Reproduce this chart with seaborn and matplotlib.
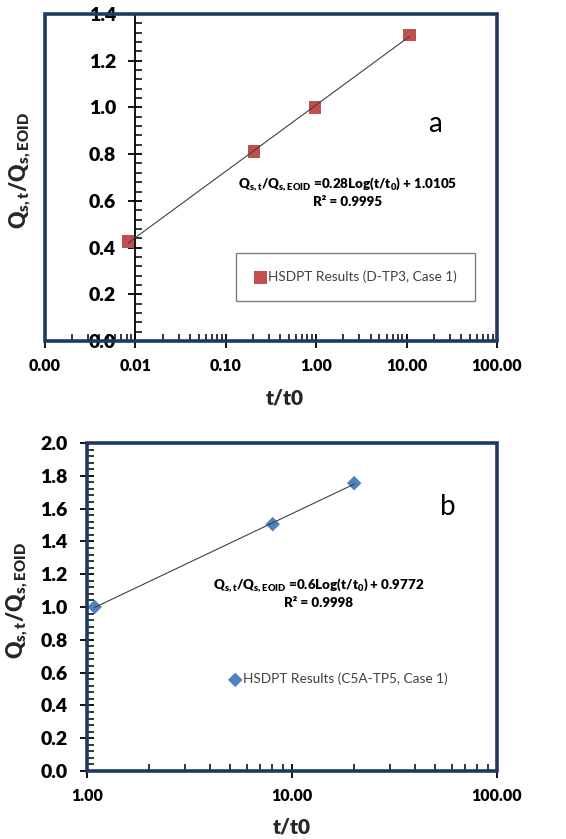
import numpy as np
import pandas as pd
import matplotlib
matplotlib.use("Agg")
import matplotlib.pyplot as plt
import seaborn as sns
from matplotlib.patches import Rectangle
from matplotlib.ticker import LogLocator, MultipleLocator, NullFormatter, FormatStrFormatter

# ---------------- data ----------------
a_t = [0.0083, 0.205, 0.97, 10.7]
a_q = [0.425, 0.81, 1.0, 1.31]
a_label = "HSDPT Results (D-TP3, Case 1)"
a_eq = "Q$_{s,t}$/Q$_{s,EOID}$ =0.28Log(t/t$_0$) + 1.0105"
a_r2 = "R² = 0.9995"
a_xticks = [0.001, 0.01, 0.1, 1, 10, 100]
a_xticklabels = ["0.00", "0.01", "0.10", "1.00", "10.00", "100.00"]
a_yticks = [0.0, 0.2, 0.4, 0.6, 0.8, 1.0, 1.2, 1.4]

b_t = [1.09, 8.05, 20.1]
b_q = [1.0, 1.505, 1.755]
b_label = "HSDPT Results (C5A-TP5, Case 1)"
b_eq = "Q$_{s,t}$/Q$_{s,EOID}$ =0.6Log(t/t$_0$) + 0.9772"
b_r2 = "R² = 0.9998"
b_xticks = [1, 10, 100]
b_xticklabels = ["1.00", "10.00", "100.00"]
b_yticks = [0.0, 0.2, 0.4, 0.6, 0.8, 1.0, 1.2, 1.4, 1.6, 1.8, 2.0]

ylab = "Q$_{s,t}$/Q$_{s,EOID}$"
xlab = "t/t0"

# ---------------- style ----------------
sns.set_theme(style="white")
plt.rcParams["font.family"] = ["Lato", "DejaVu Sans"]
plt.rcParams["mathtext.default"] = "regular"

NAVY = "#1F3A60"
RED = "#C0504D"
BLUE = "#4F81BD"
HEAVY = "heavy"

fig = plt.figure(figsize=(5.66, 8.39), dpi=100)
W, H = 566, 839


def px_axes(l, t, r, b):
    return fig.add_axes([l / W, 1 - b / H, (r - l) / W, (b - t) / H])


def style_ticks(ax):
    ax.tick_params(axis="both", which="both", bottom=True, left=True,
                   top=False, right=False)
    ax.tick_params(axis="both", which="major", direction="inout", length=10,
                   width=1.3, color="black", labelcolor="black")
    ax.tick_params(axis="both", which="minor", direction="in", length=5,
                   width=1.1, color="black")
    ax.tick_params(axis="x", which="major", labelsize=11.5, pad=7)
    ax.tick_params(axis="y", which="major", labelsize=14, pad=9)
    for lab in ax.get_xticklabels() + ax.get_yticklabels():
        lab.set_fontweight(HEAVY)


def frame(ax):
    for s in ax.spines.values():
        s.set_visible(False)
    ax.add_patch(Rectangle((0, 0), 1, 1, transform=ax.transAxes, fill=False,
                           edgecolor=NAVY, lw=2.6, clip_on=False, zorder=5))


def labels(ax, xl_x, xl_y, yl_x, yl_y):
    ax.set_xlabel(xlab, fontsize=15, fontweight=HEAVY)
    ax.xaxis.label.set_va("center")
    ax.xaxis.set_label_coords(xl_x, xl_y)
    ax.set_ylabel(ylab, fontsize=15.5, fontweight=HEAVY)
    ax.yaxis.label.set_va("center")
    ax.yaxis.set_label_coords(yl_x, yl_y)


# ---------------- panel a ----------------
ax1 = px_axes(45, 14, 497, 341)
dfa = pd.DataFrame({"t": a_t, "q": a_q})
sns.scatterplot(data=dfa, x="t", y="q", marker="s", s=85, color=RED,
                edgecolor="none", label=a_label, ax=ax1, zorder=3)
ka = np.polyfit(np.log10(a_t), a_q, 1)
xa = np.logspace(np.log10(min(a_t)), np.log10(max(a_t)), 50)
ax1.plot(xa, np.polyval(ka, np.log10(xa)), color="#404040", lw=0.8, zorder=4)
ax1.set_xscale("log")
ax1.set_xlim(0.001, 100)
ax1.set_ylim(0, 1.4)
frame(ax1)
ax1.spines["left"].set_visible(True)
ax1.spines["left"].set_position(("data", 0.01))
ax1.spines["left"].set_color("black")
ax1.spines["left"].set_linewidth(1.3)
ax1.spines["bottom"].set_visible(True)
ax1.spines["bottom"].set_color("black")
ax1.spines["bottom"].set_linewidth(1.3)
ax1.set_xticks(a_xticks, labels=a_xticklabels)
ax1.xaxis.set_minor_locator(LogLocator(base=10, subs=np.arange(2, 10)))
ax1.xaxis.set_minor_formatter(NullFormatter())
ax1.set_yticks(a_yticks)
ax1.yaxis.set_major_formatter(FormatStrFormatter("%.1f"))
ax1.yaxis.set_minor_locator(MultipleLocator(0.04))
style_ticks(ax1)
labels(ax1, 0.53, -0.175, -0.055, 0.52)
ax1.text(0.863, 0.665, "a", transform=ax1.transAxes, fontsize=20,
         ha="center", va="center", color="black")
ax1.text(0.67, 0.483, a_eq, transform=ax1.transAxes, fontsize=9.6,
         fontweight=HEAVY, ha="center", va="center", color="black")
ax1.text(0.67, 0.425, a_r2, transform=ax1.transAxes, fontsize=9.6,
         fontweight=HEAVY, ha="center", va="center", color="black")
leg1 = ax1.legend(loc="center", bbox_to_anchor=(0.687, 0.197), frameon=True,
                  fancybox=False, framealpha=1, edgecolor="#808080",
                  fontsize=9.8, borderpad=1.3, handletextpad=0.05,
                  handlelength=1.0, labelcolor="#404040")
leg1.get_frame().set_linewidth(1.0)

# ---------------- panel b ----------------
ax2 = px_axes(87, 443, 497, 771)
dfb = pd.DataFrame({"t": b_t, "q": b_q})
sns.scatterplot(data=dfb, x="t", y="q", marker="D", s=55, color=BLUE,
                edgecolor="none", label=b_label, ax=ax2, zorder=3)
kb = np.polyfit(np.log10(b_t), b_q, 1)
xb = np.logspace(np.log10(min(b_t)), np.log10(max(b_t)), 50)
ax2.plot(xb, np.polyval(kb, np.log10(xb)), color="#404040", lw=0.8, zorder=4)
ax2.set_xscale("log")
ax2.set_xlim(1, 100)
ax2.set_ylim(0, 2.0)
frame(ax2)
ax2.spines["bottom"].set_visible(True)
ax2.spines["bottom"].set_color("black")
ax2.spines["bottom"].set_linewidth(1.3)
ax2.spines["left"].set_visible(True)
ax2.spines["left"].set_color("black")
ax2.spines["left"].set_linewidth(1.3)
ax2.set_xticks(b_xticks, labels=b_xticklabels)
ax2.xaxis.set_minor_locator(LogLocator(base=10, subs=np.arange(2, 10)))
ax2.xaxis.set_minor_formatter(NullFormatter())
ax2.set_yticks(b_yticks)
ax2.yaxis.set_major_formatter(FormatStrFormatter("%.1f"))
ax2.yaxis.set_minor_locator(MultipleLocator(0.04))
style_ticks(ax2)
labels(ax2, 0.5, -0.17, -0.171, 0.52)
ax2.text(0.88, 0.805, "b", transform=ax2.transAxes, fontsize=20,
         ha="center", va="center", color="black")
ax2.text(0.565, 0.57, b_eq, transform=ax2.transAxes, fontsize=9.6,
         fontweight=HEAVY, ha="center", va="center", color="black")
ax2.text(0.565, 0.512, b_r2, transform=ax2.transAxes, fontsize=9.6,
         fontweight=HEAVY, ha="center", va="center", color="black")
ax2.legend(loc="center", bbox_to_anchor=(0.612, 0.28), frameon=False,
           fontsize=9.8, handletextpad=0.05, handlelength=1.0,
           labelcolor="#404040")

fig.savefig("out.png", dpi=100)
